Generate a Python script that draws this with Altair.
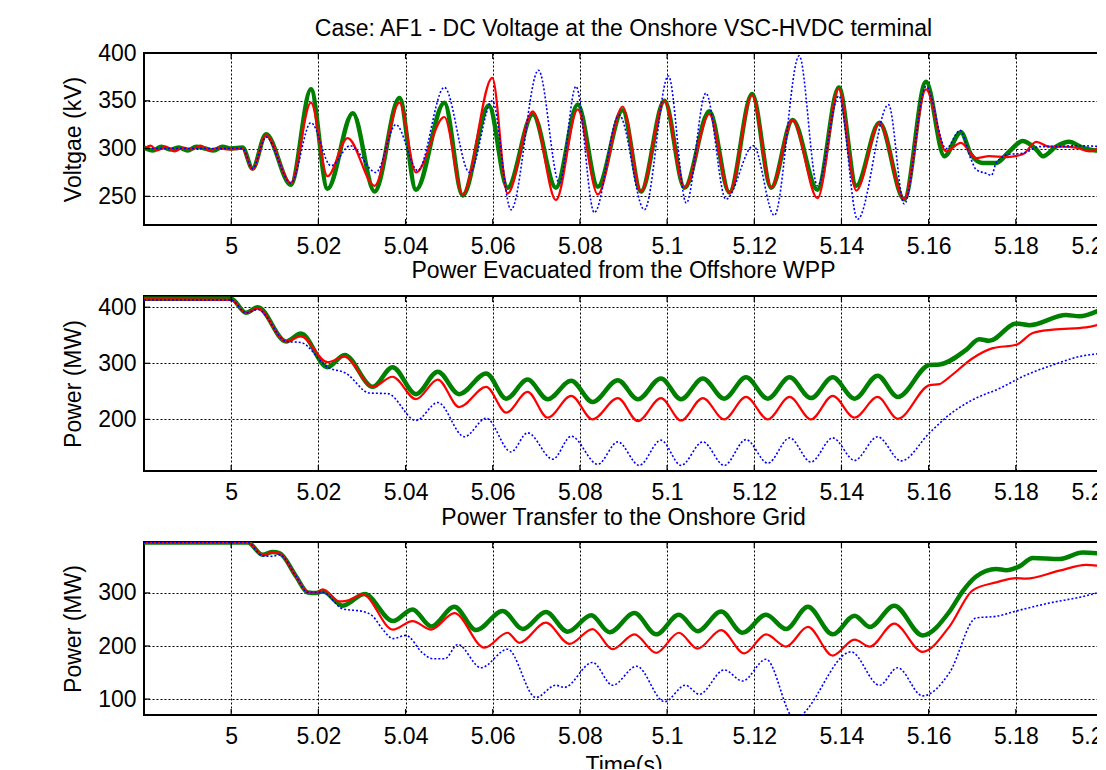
import altair as alt
import pandas as pd

FONT = "Liberation Sans"
FS = 23

X_TICKS = [5.0, 5.02, 5.04, 5.06, 5.08, 5.1, 5.12, 5.14, 5.16, 5.18, 5.2]

# ---------------- Panel 1: DC voltage (kV) ----------------
V_GREEN_T = [4.980, 4.982, 4.984, 4.986, 4.988, 4.990, 4.992, 4.994, 4.996, 4.998, 5.000, 5.0026,
             5.0049, 5.0080, 5.0137, 5.0183, 5.0221, 5.0279, 5.0329, 5.0386, 5.0424, 5.0489, 5.0531,
             5.0591, 5.0634, 5.0692, 5.0745, 5.0795, 5.0841, 5.0898, 5.0940, 5.0994, 5.1040, 5.1097,
             5.1143, 5.1195, 5.1239, 5.1288, 5.1345, 5.1394, 5.1434, 5.1487, 5.1544, 5.1594, 5.1636,
             5.1674, 5.1697, 5.1724, 5.1755, 5.1785, 5.1816, 5.1847, 5.1862, 5.1892, 5.1922, 5.1953,
             5.1984, 5.2000]
V_GREEN = [301, 298, 302, 299, 301, 298, 302, 300, 298, 302, 300, 301,
           279, 315, 262, 362, 258, 337, 255, 353, 257, 348, 251,
           345, 259, 336, 259, 346, 260, 340, 255, 350, 259, 339,
           254, 357, 259, 330, 257, 364, 261, 327, 247, 370, 292,
           317, 294, 285, 285, 297, 308, 299, 292, 302, 307, 301,
           298, 301]

V_RED_T = [4.980, 4.9815, 4.983, 4.985, 4.987, 4.989, 4.991, 4.993, 4.995, 4.997, 4.999, 5.0026,
           5.0049, 5.0080, 5.0137, 5.0183, 5.0221, 5.0267, 5.0329, 5.0386, 5.0424, 5.0489, 5.0531,
           5.0599, 5.0634, 5.0692, 5.0745, 5.0795, 5.0841, 5.0898, 5.0940, 5.0994, 5.1040, 5.1097,
           5.1143, 5.1195, 5.1239, 5.1288, 5.1345, 5.1394, 5.1434, 5.1487, 5.1544, 5.1594, 5.1640,
           5.1674, 5.1709, 5.1739, 5.1778, 5.1816, 5.1847, 5.1877, 5.1908, 5.1938, 5.1969, 5.2000]
V_RED = [299, 303, 298, 302, 297, 301, 299, 303, 298, 301, 299, 300,
         278, 314, 264, 348, 271, 311, 261, 348, 275, 333, 252,
         374, 253, 339, 246, 341, 252, 344, 255, 350, 259, 336,
         254, 356, 259, 330, 248, 363, 256, 327, 247, 362, 297,
         306, 290, 292, 291, 294, 307, 302, 302, 301, 297, 304]

V_BLUE_T = [4.980, 5.0026, 5.0049, 5.0080, 5.0137, 5.0183, 5.0229, 5.0273, 5.0332, 5.0378, 5.0428,
            5.0489, 5.0547, 5.0599, 5.0642, 5.0705, 5.0753, 5.0791, 5.0833, 5.0890, 5.0948, 5.1003,
            5.1044, 5.1089, 5.1135, 5.1198, 5.1246, 5.1303, 5.1345, 5.1394, 5.1437, 5.1508, 5.1544,
            5.1594, 5.1640, 5.1672, 5.1697, 5.1709, 5.1732, 5.1744, 5.1755, 5.1785, 5.1816, 5.1855,
            5.1892, 5.1938, 5.2000]
V_BLUE = [300, 300, 279, 312, 264, 327, 282, 303, 275, 325, 277,
          364, 275, 350, 236, 382, 264, 365, 233, 335, 236, 376,
          243, 358, 247, 303, 230, 397, 261, 355, 226, 346, 242,
          365, 300, 319, 289, 278, 274, 272, 285, 294, 295, 302,
          302, 303, 302]

# ---------------- Panel 2: Power evacuated (MW) ----------------
P2_GREEN_T = [4.980, 5.000, 5.0034, 5.0061, 5.0126, 5.0160, 5.0221, 5.0260, 5.0325, 5.0370, 5.0424,
              5.0474, 5.0523, 5.0585, 5.0631, 5.0680, 5.0726, 5.0780, 5.0829, 5.0887, 5.0933, 5.0986,
              5.1032, 5.1082, 5.1131, 5.1181, 5.1231, 5.1281, 5.1330, 5.1380, 5.1430, 5.1483, 5.1529,
              5.1602, 5.1625, 5.1686, 5.1716, 5.1739, 5.1801, 5.1831, 5.1915, 5.1946, 5.2000]
P2_GREEN = [415, 415, 390, 400, 339, 353, 293, 315, 258, 293, 245,
            285, 245, 282, 237, 271, 236, 269, 231, 270, 236, 273,
            236, 273, 237, 275, 237, 275, 238, 275, 237, 278, 240,
            297, 298, 324, 343, 340, 371, 368, 386, 384, 398]

P2_RED_T = [4.980, 5.000, 5.0034, 5.0061, 5.0126, 5.0160, 5.0221, 5.0260, 5.0325, 5.0370, 5.0424,
            5.0474, 5.0523, 5.0585, 5.0631, 5.0680, 5.0726, 5.0780, 5.0829, 5.0887, 5.0933, 5.0986,
            5.1032, 5.1082, 5.1131, 5.1181, 5.1231, 5.1281, 5.1330, 5.1380, 5.1430, 5.1483, 5.1529,
            5.1602, 5.1625, 5.1647, 5.1701, 5.1747, 5.1801, 5.1839, 5.1885, 5.1961, 5.2000]
P2_RED = [414, 413, 390, 398, 339, 348, 302, 312, 258, 276, 236,
          271, 222, 258, 212, 249, 203, 242, 200, 238, 197, 238,
          198, 238, 200, 240, 200, 240, 200, 242, 203, 240, 201,
          261, 263, 275, 309, 327, 333, 354, 360, 364, 371]

P2_BLUE_T = [4.980, 5.000, 5.0034, 5.0061, 5.0126, 5.0160, 5.0221, 5.0264, 5.0317, 5.0359, 5.0424,
             5.0474, 5.0535, 5.0585, 5.0642, 5.0680, 5.0738, 5.0780, 5.0841, 5.0887, 5.0936, 5.0986,
             5.1032, 5.1082, 5.1131, 5.1181, 5.1231, 5.1281, 5.1330, 5.1380, 5.1430, 5.1483, 5.1537,
             5.1602, 5.1647, 5.1701, 5.1762, 5.1823, 5.1885, 5.1946, 5.2000]
P2_BLUE = [413, 413, 390, 396, 339, 337, 293, 282, 247, 246, 198,
           230, 169, 202, 142, 176, 129, 170, 120, 160, 118, 163,
           118, 160, 118, 164, 122, 167, 124, 167, 127, 169, 126,
           176, 208, 235, 255, 279, 297, 312, 318]

# ---------------- Panel 3: Power to onshore grid (MW) ----------------
P3_GREEN_T = [4.980, 5.0038, 5.0072, 5.0095, 5.0111, 5.0149, 5.0176, 5.0195, 5.0210, 5.0256, 5.0306,
              5.0371, 5.0416, 5.0459, 5.0512, 5.0562, 5.0623, 5.0669, 5.0722, 5.0772, 5.0826, 5.0868,
              5.0925, 5.0975, 5.1027, 5.1070, 5.1124, 5.1173, 5.1227, 5.1273, 5.1323, 5.1380, 5.1430,
              5.1465, 5.1521, 5.1586, 5.1648, 5.1678, 5.1709, 5.1755, 5.1778, 5.1808, 5.1839, 5.1900,
              5.1953, 5.2000]
P3_GREEN = [395, 395, 372, 377, 375, 331, 301, 300, 303, 276, 298,
            247, 269, 237, 274, 230, 266, 232, 264, 227, 258, 226,
            262, 222, 259, 228, 265, 225, 259, 232, 274, 222, 257,
            236, 276, 220, 265, 303, 331, 345, 343, 350, 366, 364,
            376, 374]

P3_RED_T = [4.980, 5.0038, 5.0072, 5.0095, 5.0111, 5.0149, 5.0176, 5.0195, 5.0210, 5.0248, 5.0264,
            5.0302, 5.0371, 5.0416, 5.0459, 5.0512, 5.0581, 5.0634, 5.0661, 5.0722, 5.0776, 5.0829,
            5.0875, 5.0925, 5.0975, 5.1027, 5.1070, 5.1124, 5.1177, 5.1227, 5.1273, 5.1323, 5.1380,
            5.1430, 5.1465, 5.1521, 5.1586, 5.1648, 5.1701, 5.1755, 5.1801, 5.1823, 5.1900, 5.1961,
            5.2000]
P3_RED = [395, 395, 372, 376, 374, 331, 301, 300, 307, 284, 285,
          297, 231, 247, 231, 262, 197, 225, 206, 244, 204, 232,
          194, 222, 187, 225, 195, 230, 186, 222, 199, 236, 182,
          212, 199, 242, 189, 237, 305, 320, 328, 327, 342, 353,
          350]

P3_BLUE_T = [4.980, 5.0038, 5.0072, 5.0095, 5.0111, 5.0149, 5.0176, 5.0210, 5.0256, 5.0302, 5.0325,
             5.0348, 5.0371, 5.0401, 5.0439, 5.0462, 5.0490, 5.0520, 5.0573, 5.0634, 5.0699, 5.0745,
             5.0764, 5.0829, 5.0875, 5.0930, 5.0994, 5.1042, 5.1074, 5.1131, 5.1173, 5.1227, 5.1292,
             5.1422, 5.1487, 5.1529, 5.1586, 5.1648, 5.1709, 5.1755, 5.1801, 5.1877, 5.1953, 5.2000]
P3_BLUE = [395, 395, 370, 369, 372, 331, 301, 301, 270, 265, 256,
           231, 214, 220, 187, 176, 176, 203, 159, 194, 103, 126,
           122, 169, 126, 162, 95, 126, 109, 155, 134, 175, 64,
           189, 126, 159, 106, 150, 253, 256, 266, 281, 293, 303]

X_DOMAIN = [4.98, 5.2]
PLOT_W = 959
TICK_LEN = 6

STYLES = {
    "green": dict(color="#008000", strokeWidth=4.5),
    "red": dict(color="#FF0000", strokeWidth=2.2),
    "blue": dict(color="#0000FF", strokeWidth=1.6, strokeDash=[2, 2]),
}


def panel(series, ydom, yvals, ytitle, title, title_dy, height, xtitle=None):
    xscale = alt.Scale(domain=X_DOMAIN, nice=False, zero=False)
    yscale = alt.Scale(domain=ydom, nice=False, zero=False)
    xaxis = alt.Axis(values=X_TICKS, format="~g", title=xtitle, titlePadding=6)
    yaxis = alt.Axis(values=yvals, title=ytitle)
    layers = []
    for name, ts, vs in series:
        df = pd.DataFrame({"t": ts, "v": vs})
        layers.append(
            alt.Chart(df)
            .mark_line(clip=True, interpolate="monotone", **STYLES[name])
            .encode(x=alt.X("t:Q", scale=xscale, axis=xaxis),
                    y=alt.Y("v:Q", scale=yscale, axis=yaxis))
        )
    # Matlab-style inward tick marks (top and bottom, left and right)
    xt = pd.DataFrame({"t": X_TICKS})
    yt = pd.DataFrame({"v": yvals})
    tick_style = dict(color="black", strokeWidth=1.2)
    layers.append(alt.Chart(xt).mark_rule(**tick_style).encode(
        x=alt.X("t:Q", scale=xscale, axis=xaxis), y=alt.value(0), y2=alt.value(TICK_LEN)))
    layers.append(alt.Chart(xt).mark_rule(**tick_style).encode(
        x=alt.X("t:Q", scale=xscale, axis=xaxis), y=alt.value(height - TICK_LEN), y2=alt.value(height)))
    layers.append(alt.Chart(yt).mark_rule(**tick_style).encode(
        y=alt.Y("v:Q", scale=yscale, axis=yaxis), x=alt.value(0), x2=alt.value(TICK_LEN)))
    layers.append(alt.Chart(yt).mark_rule(**tick_style).encode(
        y=alt.Y("v:Q", scale=yscale, axis=yaxis), x=alt.value(PLOT_W - TICK_LEN), x2=alt.value(PLOT_W)))
    return alt.layer(*layers).properties(
        width=PLOT_W,
        height=height,
        title=alt.TitleParams(title, offset=17, dy=title_dy, frame="group", baseline="alphabetic",
                              anchor="middle", font=FONT, fontSize=FS, fontWeight="normal",
                              color="black"),
    )


p1 = panel([("green", V_GREEN_T, V_GREEN), ("red", V_RED_T, V_RED), ("blue", V_BLUE_T, V_BLUE)],
           [220, 400], [250, 300, 350, 400], "Voltgae (kV)",
           "Case: AF1 - DC Voltage at the Onshore VSC-HVDC terminal", 34, 172)
p2 = panel([("green", P2_GREEN_T, P2_GREEN), ("red", P2_RED_T, P2_RED), ("blue", P2_BLUE_T, P2_BLUE)],
           [108, 420], [200, 300, 400], "Power (MW)",
           "Power Evacuated from the Offshore WPP", 23, 175)
p3 = panel([("green", P3_GREEN_T, P3_GREEN), ("red", P3_RED_T, P3_RED), ("blue", P3_BLUE_T, P3_BLUE)],
           [70, 396], [100, 200, 300], "Power (MW)",
           "Power Transfer to the Onshore Grid", 24, 173, xtitle="Time(s)")

chart = (
    alt.vconcat(p1, p2, p3, spacing=71, bounds="flush")
    .properties(padding={"left": 53, "top": 9, "right": -8, "bottom": -9},
                autosize=alt.AutoSizeParams(type="pad"), background="white")
    .configure_view(stroke="black", strokeWidth=2)
    .configure_axis(
        labelFont=FONT, labelFontSize=FS, labelColor="black",
        titleFont=FONT, titleFontSize=FS, titleFontWeight="normal", titleColor="black",
        grid=True, gridColor="black", gridDash=[2, 2], gridOpacity=1, gridWidth=1,
        domain=False, ticks=False, tickSize=0,
    )
    .configure_axisX(labelPadding=10)
    .configure_axisY(labelPadding=8, titlePadding=12)
)

chart.save("out.html", embed_options={"renderer": "svg", "actions": False})
